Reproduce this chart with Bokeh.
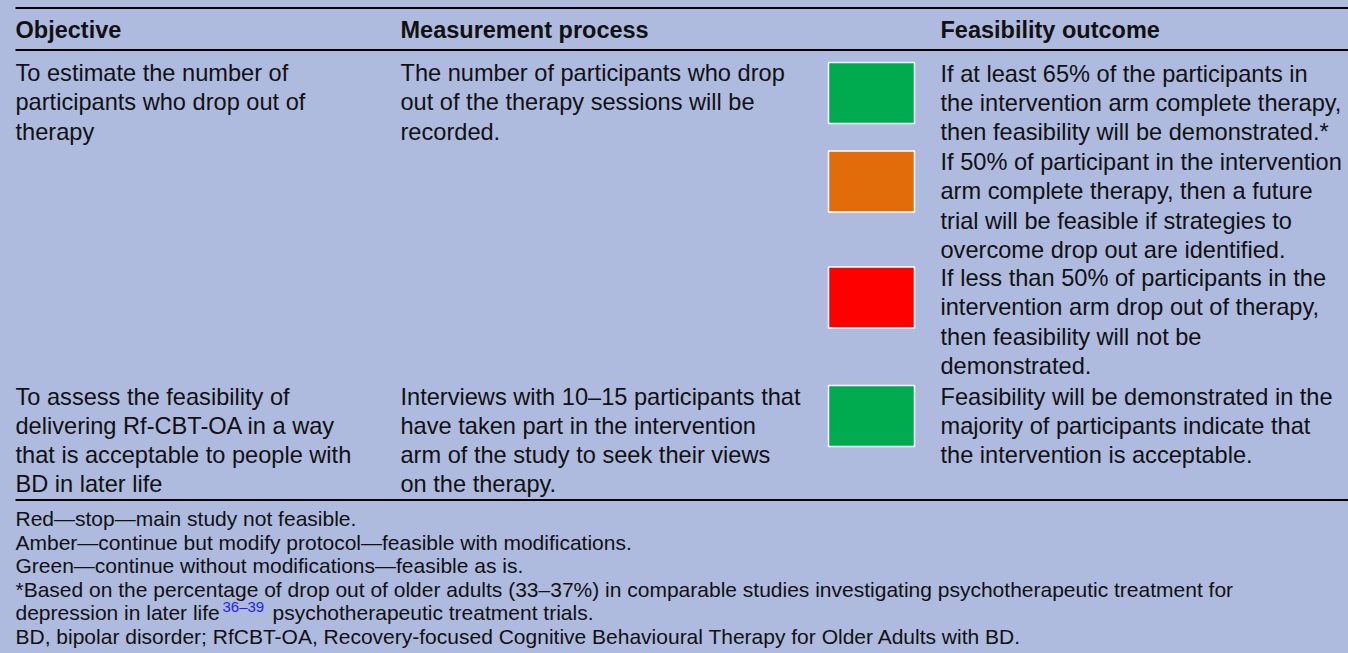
from bokeh.plotting import figure
from bokeh.models import Range1d
from bokeh.embed import file_html
from bokeh.resources import INLINE
from bokeh.core.properties import value

# ---------------- data ----------------
headers = ["Objective", "Measurement process", "Feasibility outcome"]

row1_objective = ["To estimate the number of", "participants who drop out of", "therapy"]
row1_measure = ["The number of participants who drop",
                "out of the therapy sessions will be",
                "recorded."]
row2_objective = ["To assess the feasibility of",
                  "delivering Rf-CBT-OA in a way",
                  "that is acceptable to people with",
                  "BD in later life"]
row2_measure = ["Interviews with 10\u201315 participants that",
                "have taken part in the intervention",
                "arm of the study to seek their views",
                "on the therapy."]

outcomes = [
    ["If at least 65% of the participants in",
     "the intervention arm complete therapy,",
     "then feasibility will be demonstrated.*"],
    ["If 50% of participant in the intervention",
     "arm complete therapy, then a future",
     "trial will be feasible if strategies to",
     "overcome drop out are identified."],
    ["If less than 50% of participants in the",
     "intervention arm drop out of therapy,",
     "then feasibility will not be",
     "demonstrated."],
    ["Feasibility will be demonstrated in the",
     "majority of participants indicate that",
     "the intervention is acceptable."],
]
outcome_status = ["Green", "Amber", "Red", "Green"]
status_colors = {"Green": "#00ab4f", "Amber": "#e26b0a", "Red": "#ff0000"}

footnotes = [
    "Red\u2014stop\u2014main study not feasible.",
    "Amber\u2014continue but modify protocol\u2014feasible with modifications.",
    "Green\u2014continue without modifications\u2014feasible as is.",
    "*Based on the percentage of drop out of older adults (33\u201337%) in comparable studies investigating psychotherapeutic treatment for",
    "depression in later life",
    "BD, bipolar disorder; RfCBT-OA, Recovery-focused Cognitive Behavioural Therapy for Older Adults with BD.",
]
footnote_sup = "36\u201339"
footnote_after_sup = "psychotherapeutic treatment trials."

# ---------------- layout ----------------
W, H = 1348, 651
BG = "#aebbdf"
FONT = value("Liberation Sans")
BODY = "23.6px"
HEAD = "23.5px"
FOOT = "21px"
INK = "#111111"

COL_X = [15, 400, 940]
BOX_X0, BOX_X1 = 828, 914
LINE_H = 29.3
ROW1_Y = 72.5
BLOCK_Y = [73.0, 161.5, 277.5, 396.0]
FOOT_Y0, FOOT_DY = 518.0, 23.6

p = figure(width=W, height=H, output_backend="svg", toolbar_location=None,
           x_range=Range1d(0, W), y_range=Range1d(H, 0),
           min_border=0, background_fill_color=BG, border_fill_color=BG)
p.xaxis.visible = False
p.yaxis.visible = False
p.grid.visible = False
p.outline_line_color = None

# rules
p.segment(x0=[15, 15, 15], x1=[1350, 1350, 1350], y0=[7.5, 49.5, 499.5], y1=[7.5, 49.5, 499.5],
          line_color="#000000", line_width=2)


def put(xs, ys, texts, size=BODY, style="normal", color=INK, baseline="middle"):
    p.text(x=xs, y=ys, text=texts, text_font=FONT, text_font_size=size,
           text_font_style=style, text_color=color, text_baseline=baseline,
           text_align="left")


# headers
put(COL_X, [29.5] * 3, headers, size=HEAD, style="bold")

# row 1
put([COL_X[0]] * len(row1_objective), [ROW1_Y + i * LINE_H for i in range(len(row1_objective))], row1_objective)
put([COL_X[1]] * len(row1_measure), [ROW1_Y + i * LINE_H for i in range(len(row1_measure))], row1_measure)

# row 2
r2 = BLOCK_Y[3]
put([COL_X[0]] * len(row2_objective), [r2 + i * LINE_H for i in range(len(row2_objective))], row2_objective)
put([COL_X[1]] * len(row2_measure), [r2 + i * LINE_H for i in range(len(row2_measure))], row2_measure)

# outcomes + status boxes
tops, bottoms, cols = [], [], []
for by, lines, st in zip(BLOCK_Y, outcomes, outcome_status):
    put([COL_X[2]] * len(lines), [by + i * LINE_H for i in range(len(lines))], lines)
    tops.append(by - 11)
    bottoms.append(by + 50)
    cols.append(status_colors[st])
p.quad(left=[BOX_X0] * 4, right=[BOX_X1] * 4, top=tops, bottom=bottoms,
       fill_color=cols, line_color="#ffffff", line_width=1.5)

# footnotes
fy = [FOOT_Y0 + i * FOOT_DY for i in range(len(footnotes))]
put([15] * len(footnotes), fy, footnotes, size=FOOT)
put([222], [fy[4] - 6], [footnote_sup], size="15px", color="#2020ff")
put([272], [fy[4]], [footnote_after_sup], size=FOOT)

html = file_html(p, INLINE)
html = html.replace("</head>", "<style>html,body{background:%s;}</style></head>" % BG, 1)
open("out.html", "w").write(html)
